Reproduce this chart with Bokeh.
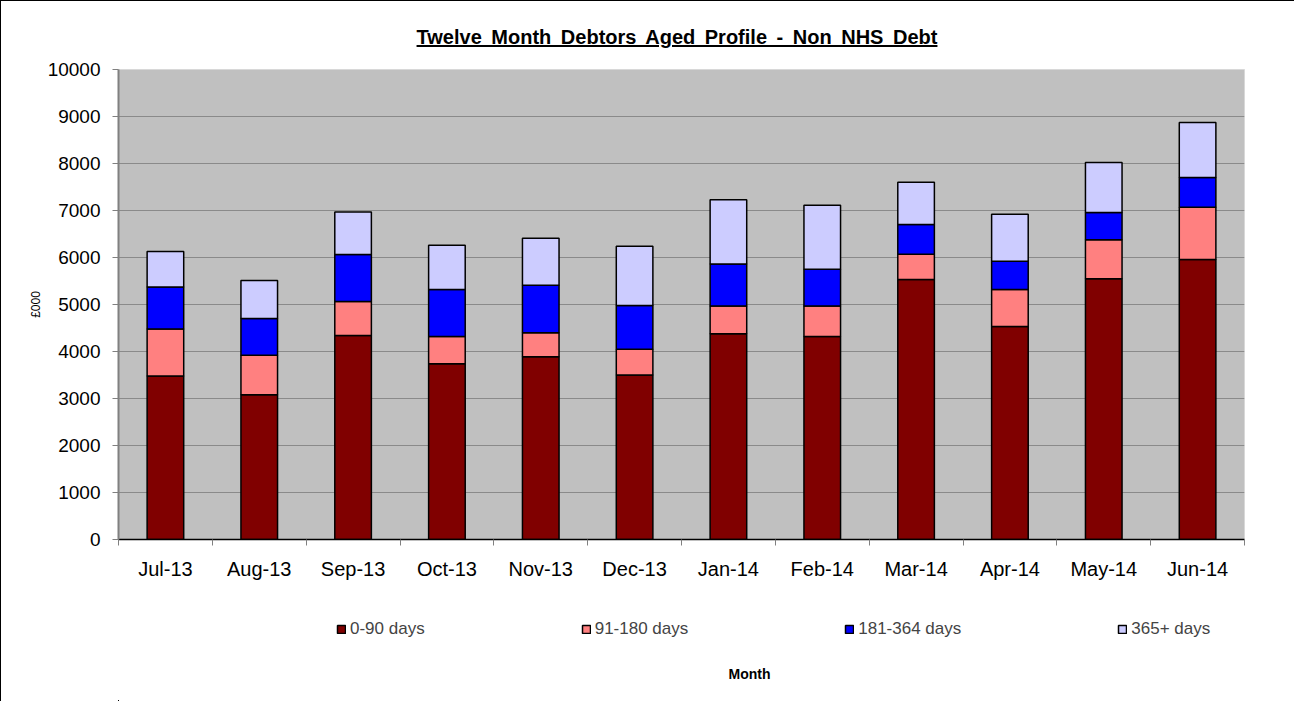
from bokeh.plotting import figure
from bokeh.models import ColumnDataSource, FixedTicker, Legend, LegendItem, Div, Range1d, Label
from bokeh.layouts import column
from bokeh.embed import file_html
from bokeh.resources import INLINE

# ---- data (GBP thousands) ----
months = ["Jul-13", "Aug-13", "Sep-13", "Oct-13", "Nov-13", "Dec-13",
          "Jan-14", "Feb-14", "Mar-14", "Apr-14", "May-14", "Jun-14"]
days_0_90 = [3480, 3080, 4340, 3740, 3890, 3500, 4380, 4320, 5530, 4530, 5550, 5960]
days_91_180 = [1000, 840, 725, 580, 510, 550, 590, 650, 540, 790, 830, 1110]
days_181_364 = [890, 780, 1000, 1000, 1010, 930, 890, 780, 630, 600, 580, 630]
days_365_plus = [760, 810, 905, 940, 1000, 1260, 1370, 1360, 900, 1000, 1060, 1170]
series_names = ["0-90 days", "91-180 days", "181-364 days", "365+ days"]
y_ticks = list(range(0, 10001, 1000))

title_text = "Twelve Month Debtors Aged Profile - Non NHS Debt"
x_title = "Month"
y_title = "£000"
colors = ["#800000", "#FF8080", "#0000FF", "#CCCCFF"]
FONT = "Liberation Sans"

xs = list(range(len(months)))
source = ColumnDataSource(dict(x=xs, s0=days_0_90, s1=days_91_180,
                               s2=days_181_364, s3=days_365_plus))
keys = ["s0", "s1", "s2", "s3"]

# ---------------- main chart ----------------
p = figure(width=1293, height=540,
           x_range=Range1d(-0.5, len(months) - 0.5), y_range=Range1d(0, 10000),
           output_backend="svg", toolbar_location=None,
           min_border_left=117, min_border_right=50, min_border_top=18,
           min_border_bottom=52)
p.title.visible = False
p.background_fill_color = "#C0C0C0"
p.border_fill_color = "white"
p.outline_line_color = "#d8d8d8"

p.vbar_stack(keys, x="x", width=0.39, color=colors,
             line_color="black", line_width=1.5, source=source)

xa = p.xaxis[0]
xa.ticker = FixedTicker(ticks=xs, minor_ticks=[i - 0.5 for i in range(len(months) + 1)])
xa.major_label_overrides = {i: m for i, m in enumerate(months)}
xa.major_tick_out = 0
xa.major_tick_in = 0
xa.minor_tick_out = 6
xa.minor_tick_in = 0
xa.minor_tick_line_color = "#808080"
xa.axis_line_color = "black"
xa.axis_line_width = 1.5
xa.major_label_standoff = 12
xa.major_label_text_font = FONT
xa.major_label_text_font_size = "20px"
xa.major_label_text_color = "black"

ya = p.yaxis[0]
ya.ticker = FixedTicker(ticks=y_ticks)
ya.minor_tick_line_color = None
ya.major_tick_out = 6
ya.major_tick_in = 0
ya.major_tick_line_color = "#808080"
ya.axis_line_color = "#808080"
ya.axis_line_width = 2
ya.major_label_standoff = 12
ya.major_label_text_font = FONT
ya.major_label_text_font_size = "19px"
ya.major_label_text_color = "black"
ya.axis_label = y_title
ya.axis_label_text_font = FONT
ya.axis_label_text_font_size = "12px"
ya.axis_label_text_font_style = "normal"
ya.axis_label_text_color = "black"
ya.axis_label_standoff = 2

p.xgrid.grid_line_color = None
p.ygrid.grid_line_color = "#8a8a8a"
p.ygrid.grid_line_width = 1

# ---------------- legend strip (own canvas, glyphs kept out of view) ----------------
p2 = figure(width=1293, height=110, x_range=Range1d(100, 101), y_range=Range1d(20000, 30000),
            output_backend="svg", toolbar_location=None,
            x_axis_location=None, y_axis_location=None, min_border=0)
p2.title.visible = False
p2.grid.visible = False
p2.outline_line_color = None
p2.background_fill_color = "white"
p2.border_fill_color = "white"

legend_renderers = p2.vbar_stack(keys, x="x", width=0.39, color=colors,
                                 line_color="black", line_width=1.5, source=source)

legend = Legend(items=[LegendItem(label=n, renderers=[r]) for n, r in zip(series_names, legend_renderers)],
                orientation="horizontal", location=(218, 62), spacing=156,
                glyph_width=10, glyph_height=10, label_standoff=4,
                padding=0, margin=0, border_line_alpha=0, background_fill_alpha=0,
                label_text_font=FONT, label_text_font_size="17px", label_height=20)
p2.add_layout(legend, "center")

p2.add_layout(Label(x=631, y=28, x_units="screen", y_units="screen", text=x_title,
                    text_align="center", text_baseline="middle",
                    text_font=FONT, text_font_size="14px", text_font_style="bold",
                    text_color="black"))

# ---------------- title ----------------
title_div = Div(text=f'<div style="font-family:\'{FONT}\';font-weight:bold;font-size:20px;'
                     f'word-spacing:4px;text-decoration:underline;text-align:center;padding-left:50px;'
                     f'position:relative;left:32px;'
                     f'padding-top:22px;width:1238px;white-space:nowrap;">{title_text}</div>',
                width=1288, height=50, margin=0)

layout = column(title_div, p, p2,
                styles={"border-left": "1px solid black", "border-top": "1px solid black"})

open("out.html", "w").write(file_html(layout, INLINE))
